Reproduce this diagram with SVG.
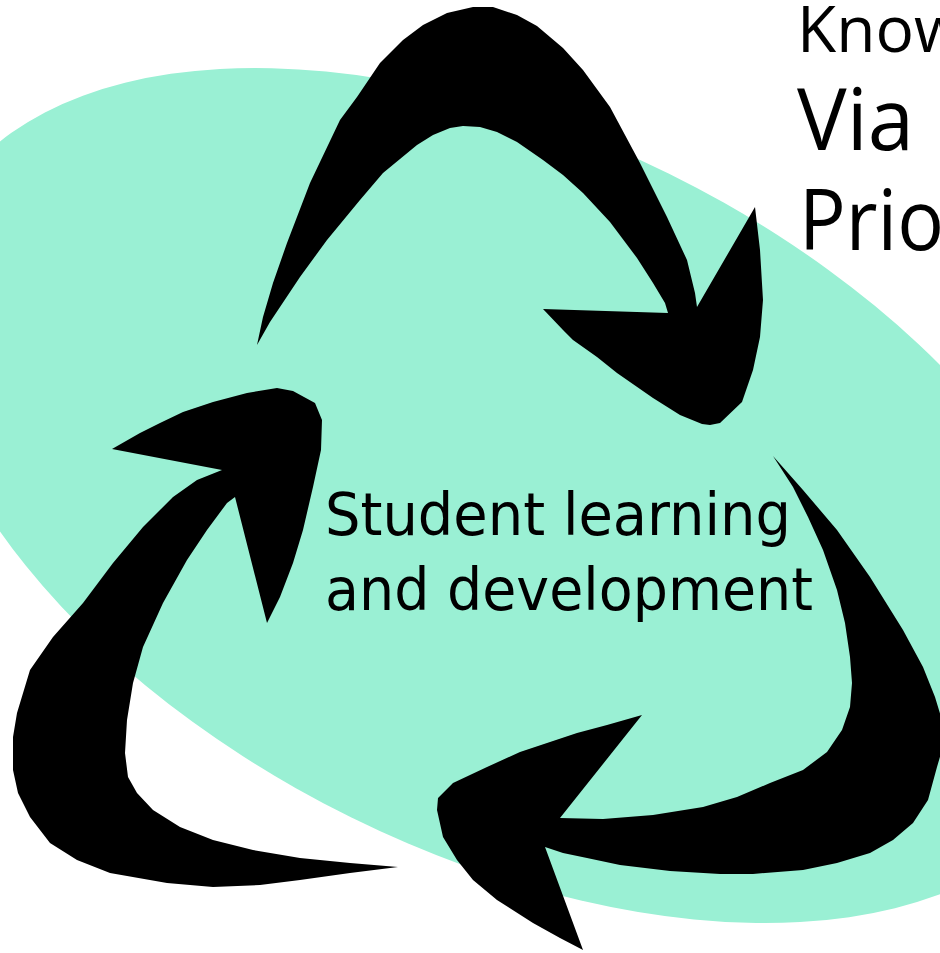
<svg xmlns="http://www.w3.org/2000/svg" width="940" height="953" viewBox="0 0 940 953">
<style>
.arrow{fill:#000;stroke:none}
.main{font-family:"DejaVu Sans",sans-serif;font-size:58px;fill:#000}
.side{font-family:"Open Sans","Noto Sans",sans-serif;fill:#000}
</style>
<rect width="940" height="953" fill="#fff"/>
<g id="background">
<ellipse cx="510" cy="495.5" rx="635" ry="359" transform="rotate(26.3 510 495.5)" fill="#9AF0D4"/>
</g>
<g id="connectors">
<polygon id="arrow-top" class="arrow" points="257,345 263,317 273,283 287,243 310,183 340,120 357,97 380,63 403,40 423,25 447,13 473,7 493,7 517,15 537,26 563,48 583,70 610,107 640,163 667,217 687,260 695,293 697,307 755,207 760,250 763,300 760,337 753,370 742,402 720,423 710,425 702,424 680,415 653,398 617,373 597,357 573,340 563,330 543,309 668,313 665,303 653,283 637,258 610,222 583,193 563,175 543,160 517,142 497,132 480,127 463,126 450,128 433,135 417,145 383,173 360,200 327,240 300,277 270,322"/>
<polygon id="arrow-left" class="arrow" points="112,449 140,433 160,423 183,412 213,402 247,393 277,388 293,391 315,403 322,420 321,450 313,487 303,530 293,563 280,597 267,623 235,497 227,503 207,530 187,560 163,603 143,647 133,683 127,720 125,753 128,777 137,793 153,810 180,827 213,840 253,850 300,858 350,863 398,867 350,873 300,880 260,885 213,887 167,883 110,873 77,860 50,843 30,817 18,793 13,770 13,737 17,713 30,670 53,637 83,603 113,563 143,527 173,497 197,480 222,470"/>
<polygon id="arrow-bottom" class="arrow" points="773,456 803,490 837,530 870,577 903,630 923,667 935,697 942,720 942,750 937,767 928,800 913,823 893,840 870,853 837,863 803,870 753,874 720,874 670,871 620,865 587,858 563,853 545,847 583,950 560,938 533,923 497,900 473,880 457,860 443,837 437,810 438,798 453,783 487,767 520,752 547,743 577,733 607,725 642,715 560,818 603,819 653,815 703,807 737,797 770,783 803,770 827,752 842,730 850,707 852,683 850,657 845,623 837,590 823,550 808,517 793,487"/>
</g>
<g id="center-label">
<text class="main" x="325" y="535" textLength="466" lengthAdjust="spacingAndGlyphs">Student learning</text>
<text class="main" x="325" y="610" textLength="488" lengthAdjust="spacingAndGlyphs">and development</text>
</g>
<g id="side-label">
<text class="side" x="797" y="52" font-size="64">Know</text>
<text class="side" x="797" y="150" font-size="86" textLength="117" lengthAdjust="spacingAndGlyphs">Via</text>
<text class="side" x="799" y="250" font-size="84" textLength="145" lengthAdjust="spacingAndGlyphs">Prio</text>
</g>
</svg>
